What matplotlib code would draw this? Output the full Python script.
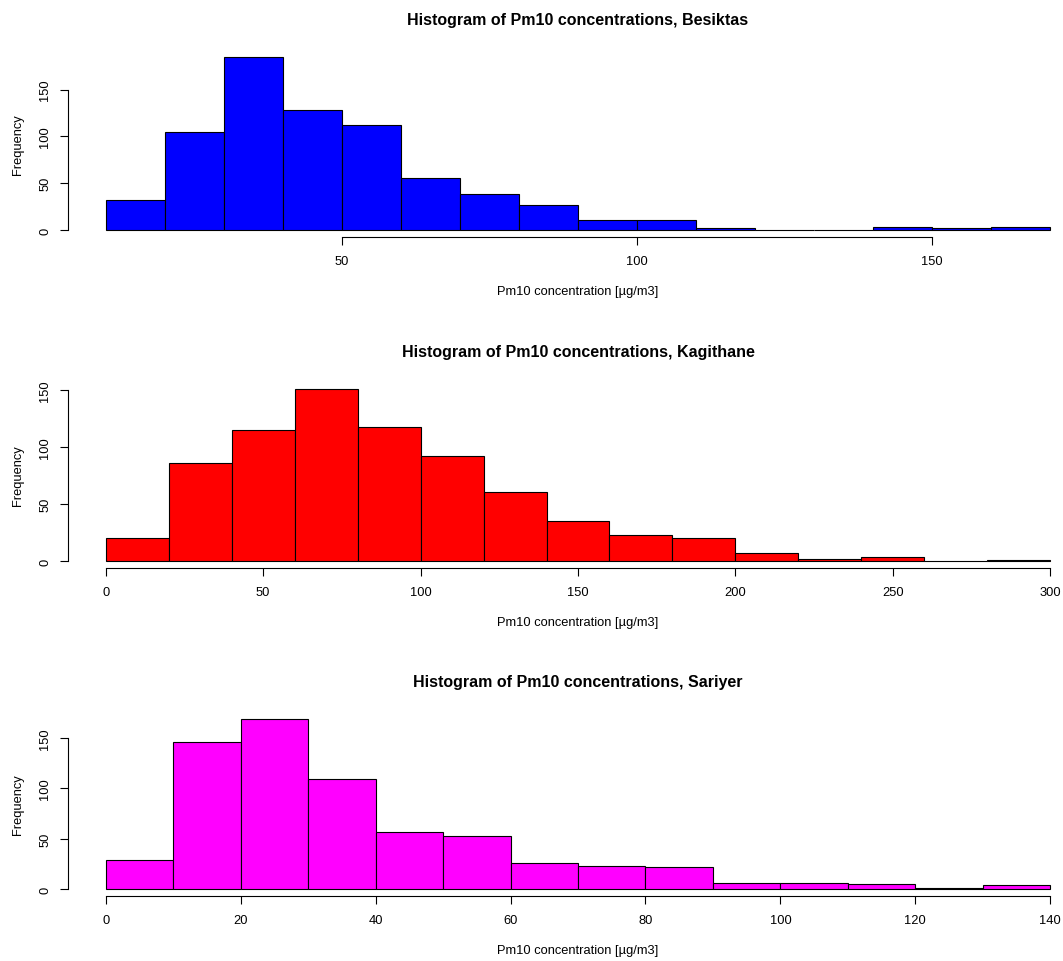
import numpy as np
import matplotlib
matplotlib.use("Agg")
import matplotlib.pyplot as plt

plt.rcParams['font.family'] = ['Liberation Sans', 'DejaVu Sans']

# bin edges and counts
besiktas_edges = np.arange(10, 171, 10)
besiktas_counts = [32, 105, 185, 128, 112, 56, 39, 27, 11, 11, 2, 0, 0, 3, 2, 3]

kagithane_edges = np.arange(0, 301, 20)
kagithane_counts = [20, 86, 115, 151, 118, 92, 61, 35, 23, 20, 7, 2, 4, 0, 1]

sariyer_edges = np.arange(0, 141, 10)
sariyer_counts = [29, 146, 169, 109, 57, 53, 26, 23, 22, 6, 6, 5, 1, 4]

stations = ["Besiktas", "Kagithane", "Sariyer"]
colors = ["#0000ff", "#ff0000", "#ff00ff"]
xticks = [[50, 100, 150], [0, 50, 100, 150, 200, 250, 300],
          [0, 20, 40, 60, 80, 100, 120, 140]]
yticks = [0, 50, 100, 150]

W, H = 1063, 962
fig = plt.figure(figsize=(W / 100, H / 100), dpi=100)

# plot regions in pixels (left, top, right, bottom); right side runs past the image like the original crop
regions = [(68, 51, 1088, 238), (68, 383, 1088, 569), (68, 713, 1088, 897)]
data = [(besiktas_edges, besiktas_counts), (kagithane_edges, kagithane_counts),
        (sariyer_edges, sariyer_counts)]

for i, (edges, counts) in enumerate(data):
    l, t, r, b = regions[i]
    ax = fig.add_axes([l / W, 1 - b / H, (r - l) / W, (b - t) / H])
    ax.bar(edges[:-1], counts, width=np.diff(edges), align='edge',
           color=colors[i], edgecolor='black', linewidth=0.8)
    span = edges[-1] - edges[0]
    ax.set_xlim(edges[0] - 0.04 * span, edges[-1] + 0.04 * span)
    ymax = max(counts)
    ax.set_ylim(-0.04 * ymax, ymax * 1.04)
    for s in ['top', 'right']:
        ax.spines[s].set_visible(False)
    ax.spines['left'].set_bounds(yticks[0], yticks[-1])
    ax.spines['bottom'].set_bounds(xticks[i][0], xticks[i][-1])
    ax.spines['left'].set_linewidth(0.8)
    ax.spines['bottom'].set_linewidth(0.8)
    ax.set_xticks(xticks[i])
    ax.set_yticks(yticks)
    ax.tick_params(axis='both', direction='out', length=6, width=0.8,
                   labelsize=9.3, colors='black')
    ax.tick_params(axis='x', pad=7)
    ax.tick_params(axis='y', pad=6)
    for lab in ax.get_yticklabels():
        lab.set_rotation(90)
        lab.set_va('center')
    ax.set_xlabel("Pm10 concentration [µg/m3]", fontsize=9.3, labelpad=13)
    ax.set_ylabel("Frequency", fontsize=9.3, labelpad=11)
    cx = (l + r) / 2 / W
    fig.text(cx, 1 - (t - 30) / H, f"Histogram of Pm10 concentrations, {stations[i]}",
             ha='center', va='center', fontsize=11.5, fontweight='bold')

fig.savefig("out.png", dpi=100)
